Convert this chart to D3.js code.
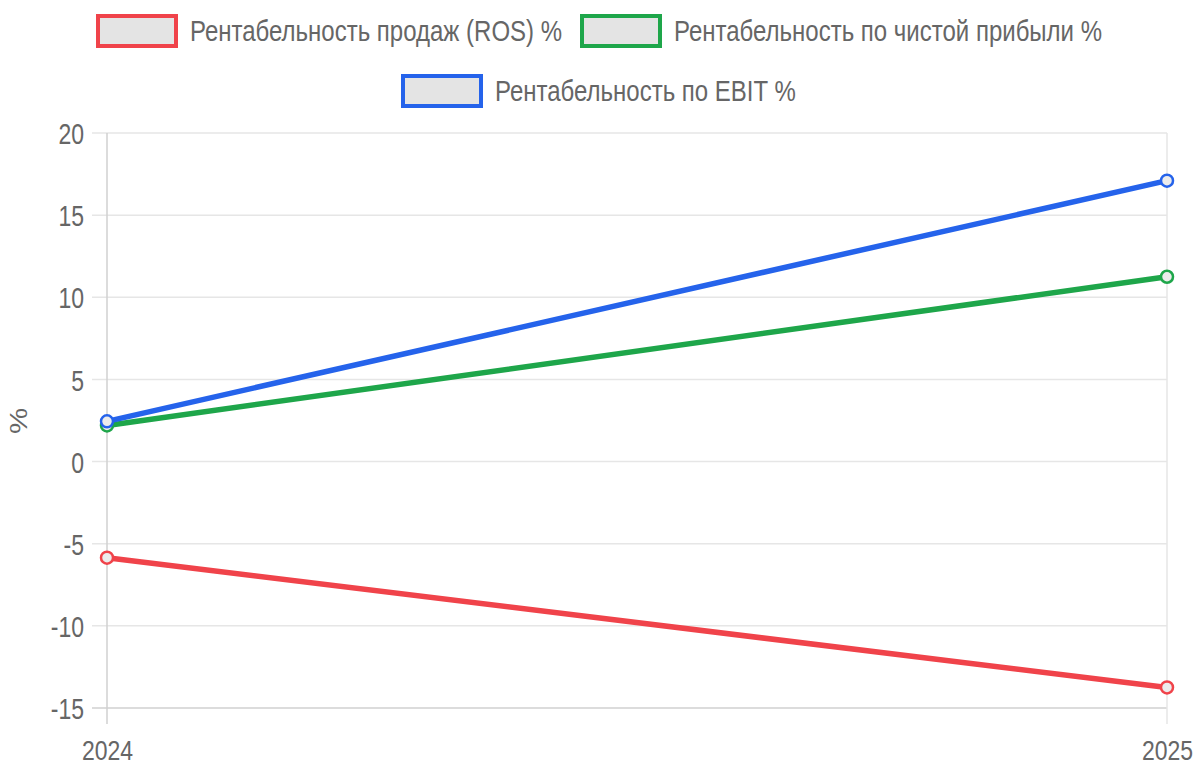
<!DOCTYPE html>
<html><head><meta charset="utf-8">
<script src="https://cdn.jsdelivr.net/npm/d3@7"></script>
<style>body{margin:0;background:#fff}svg{display:block}text{font-family:"Liberation Sans",Arial,sans-serif;fill:#666}</style>
</head><body>
<svg id="c" width="1196" height="769"></svg>
<script>
const years = ["2024", "2025"];
const seriesNames = ["Рентабельность продаж (ROS) %", "Рентабельность по чистой прибыли %", "Рентабельность по EBIT %"];
const rosValues = [-5.85, -13.75];
const netValues = [2.2, 11.25];
const ebitValues = [2.45, 17.1];
const yTicks = [20, 15, 10, 5, 0, -5, -10, -15];
const colors = ["#f0434a", "#1ea64a", "#2563eb"];
const allSeries = [rosValues, netValues, ebitValues];
const SY = 1.28;

const svg = d3.select("#c");
const x = d3.scalePoint().domain(years).range([107, 1167]);
const y = d3.scaleLinear().domain([-15, 20]).range([708, 133]);

// grid
const g = svg.append("g");
g.selectAll("line.h").data(yTicks).join("line")
  .attr("x1", 92).attr("x2", 1167).attr("y1", d => y(d)).attr("y2", d => y(d))
  .attr("stroke", d => d === -15 ? "#d0d0d0" : "#e6e6e6").attr("stroke-width", 1.5);
g.selectAll("line.v").data(years).join("line")
  .attr("x1", d => x(d)).attr("x2", d => x(d)).attr("y1", 133).attr("y2", 724)
  .attr("stroke", (d, i) => i === 0 ? "#d0d0d0" : "#e6e6e6").attr("stroke-width", 1.5);

// y tick labels
const yAxis = d3.axisLeft(y).tickValues(yTicks).tickSize(0).tickPadding(0).tickFormat(d => String(d));
const ya = svg.append("g").attr("transform", "translate(84,0)").call(yAxis);
ya.select(".domain").remove();
ya.selectAll("text").attr("font-size", 23).attr("fill", "#666").attr("x", 0).attr("dy", "0.36em")
  .style("font-family", "'Liberation Sans', Arial, sans-serif")
  .attr("transform", `scale(1,${SY})`);

// x tick labels
const xAxis = d3.axisBottom(x).tickSize(0).tickPadding(0);
const xa = svg.append("g").attr("transform", "translate(0,740)").call(xAxis);
xa.select(".domain").remove();
xa.selectAll("text").attr("font-size", 23).attr("fill", "#666").attr("y", 0).attr("dy", "0.72em")
  .style("font-family", "'Liberation Sans', Arial, sans-serif")
  .attr("transform", `scale(1,1.2)`);

// y title
svg.append("text").attr("transform", `translate(19,421) rotate(-90) scale(${SY},1)`).attr("text-anchor", "middle")
  .attr("dy", "0.36em").attr("font-size", 23).text("%");

// lines
const line = d3.line().x((d, i) => x(years[i])).y(d => y(d));
allSeries.forEach((s, k) => {
  svg.append("path").datum(s).attr("d", line).attr("fill", "none")
    .attr("stroke", colors[k]).attr("stroke-width", 5.5).attr("stroke-linecap", "round");
});
allSeries.forEach((s, k) => {
  svg.selectAll(null).data(s).join("circle")
    .attr("cx", (d, i) => x(years[i])).attr("cy", d => y(d)).attr("r", 6)
    .attr("fill", "#ececec").attr("stroke", colors[k]).attr("stroke-width", 2.5);
});

// legend
const legendItems = [
  {name: seriesNames[0], color: colors[0], bx: 96, by: 14},
  {name: seriesNames[1], color: colors[1], bx: 580, by: 14},
  {name: seriesNames[2], color: colors[2], bx: 401, by: 74}
];
const lg = svg.append("g");
legendItems.forEach(it => {
  lg.append("rect").attr("x", it.bx + 2).attr("y", it.by + 2).attr("width", 78).attr("height", 30)
    .attr("fill", "#e4e4e4").attr("stroke", it.color).attr("stroke-width", 4);
  lg.append("text").attr("transform", `translate(${it.bx + 94},${it.by + 17}) scale(1,1.2)`)
    .attr("dy", "0.36em").attr("font-size", 24).attr("fill", "#666").text(it.name);
});
</script>
</body></html>
